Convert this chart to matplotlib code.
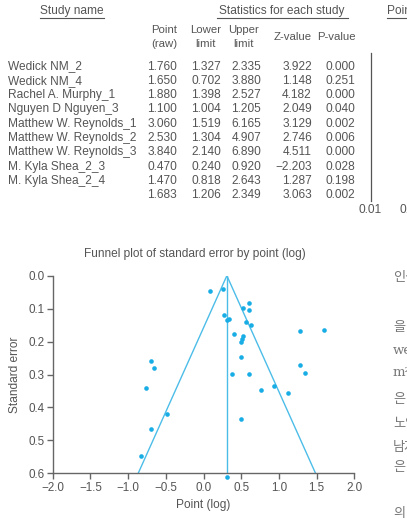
import numpy as np
import matplotlib
matplotlib.use('Agg')
import matplotlib.pyplot as plt
from matplotlib.lines import Line2D

matplotlib.rcParams['font.family'] = ['Liberation Sans', 'Noto Sans CJK KR', 'DejaVu Sans']
matplotlib.rcParams['axes.unicode_minus'] = True

W, H = 407, 523
GRAY = '#555555'
BLUE = '#19ade5'
LINE_BLUE = '#4cbde8'

# table data
study_names = ['Wedick NM_2', 'Wedick NM_4', 'Rachel A. Murphy_1', 'Nguyen D Nguyen_3',
               'Matthew W. Reynolds_1', 'Matthew W. Reynolds_2', 'Matthew W. Reynolds_3',
               'M. Kyla Shea_2_3', 'M. Kyla Shea_2_4', '']
point_raw = [1.760, 1.650, 1.880, 1.100, 3.060, 2.530, 3.840, 0.470, 1.470, 1.683]
lower_limit = [1.327, 0.702, 1.398, 1.004, 1.519, 1.304, 2.140, 0.240, 0.818, 1.206]
upper_limit = [2.335, 3.880, 2.527, 1.205, 6.165, 4.907, 6.890, 0.920, 2.643, 2.349]
z_value = [3.922, 1.148, 4.182, 2.049, 3.129, 2.746, 4.511, -2.203, 1.287, 3.063]
p_value = [0.000, 0.251, 0.000, 0.040, 0.002, 0.006, 0.000, 0.028, 0.198, 0.002]

# funnel plot data (log point, standard error)
funnel_x = [0.09, 0.255, 0.60, 0.524, 0.608, 0.276, 0.318, 0.34, 0.564, 0.63,
            0.40, 0.528, 0.515, 0.502, 0.502, 1.28, 1.594, 1.28, 1.35,
            -0.70, -0.66, -0.76, -0.488, -0.70, -0.83,
            0.382, 0.60, 0.76, 0.93, 1.12, 0.502, 0.31]
funnel_se = [0.046, 0.039, 0.084, 0.098, 0.103, 0.119, 0.134, 0.132, 0.142, 0.150,
             0.177, 0.183, 0.191, 0.200, 0.246, 0.167, 0.166, 0.270, 0.296,
             0.258, 0.281, 0.341, 0.421, 0.466, 0.547,
             0.298, 0.298, 0.347, 0.335, 0.355, 0.435, 0.612]
combined_log = 0.31
x_ticks = [-2.0, -1.5, -1.0, -0.5, 0.0, 0.5, 1.0, 1.5, 2.0]
y_ticks = [0.0, 0.1, 0.2, 0.3, 0.4, 0.5, 0.6]

# cut-off body text on the right edge
side_text = ['인식', '을', 'were', 'm²', '은', '노인', '남자', '은', '의']
side_y = [277, 327, 350, 373, 400, 423, 447, 468, 513]

fig = plt.figure(figsize=(W / 100, H / 100), dpi=100)


def fx(x):
    return x / W


def fy(y):
    return 1 - y / H


def txt(x, y, s, ha='left', size=8.6, **kw):
    fig.text(fx(x), fy(y), s, ha=ha, va='center', fontsize=size, color=GRAY, **kw)


def hline(x0, x1, y, lw=0.8):
    fig.add_artist(Line2D([fx(x0), fx(x1)], [fy(y), fy(y)], color=GRAY, lw=lw))


# ---- table ----
txt(72, 11, 'Study name', ha='center')
hline(40, 104, 18)
txt(282, 11, 'Statistics for each study', ha='center')
hline(217, 348, 18)
txt(387, 11, 'Point (raw) and 95% CI')
hline(387, 410, 18)

hs = 8.2
txt(164, 30, 'Point', ha='center', size=hs)
txt(164, 44, '(raw)', ha='center', size=hs)
txt(206, 30, 'Lower', ha='center', size=hs)
txt(206, 44, 'limit', ha='center', size=hs)
txt(244, 30, 'Upper', ha='center', size=hs)
txt(244, 44, 'limit', ha='center', size=hs)
txt(293, 37, 'Z-value', ha='center', size=hs)
txt(336, 37, 'P-value', ha='center', size=hs)

for i in range(len(study_names)):
    y = 66.5 + 14.3 * i
    txt(8, y, study_names[i])
    txt(177, y, '%.3f' % point_raw[i], ha='right')
    txt(221, y, '%.3f' % lower_limit[i], ha='right')
    txt(261, y, '%.3f' % upper_limit[i], ha='right')
    txt(312, y, ('%.3f' % z_value[i]).replace('-', '\u2212'), ha='right')
    txt(355, y, '%.3f' % p_value[i], ha='right')

fig.add_artist(Line2D([fx(371), fx(371)], [fy(53), fy(201)], color=GRAY, lw=0.9))
txt(370, 210, '0.01', ha='center')
txt(400, 210, '0.1')

# ---- funnel plot ----
ax = fig.add_axes([fx(52.7), fy(473.3), fx(354.3) - fx(52.7), fy(275.7) - fy(473.3)])
se_line = np.array([0.0, 0.6])
ax.plot(combined_log - 1.96 * se_line, se_line, color=LINE_BLUE, lw=1.0)
ax.plot(combined_log + 1.96 * se_line, se_line, color=LINE_BLUE, lw=1.0)
ax.plot([combined_log, combined_log], [0, 0.6], color=LINE_BLUE, lw=1.0)
ax.scatter(funnel_x, funnel_se, s=11, color=BLUE, zorder=3, clip_on=False, linewidths=0)

ax.set_xlim(-2, 2)
ax.set_ylim(0.6, 0)
ax.set_xticks(x_ticks)
ax.set_xticklabels([('%.1f' % t).replace('-', '\u2212') for t in x_ticks])
ax.set_yticks(y_ticks)
ax.set_yticklabels(['%.1f' % t for t in y_ticks])
for s in ['top', 'right']:
    ax.spines[s].set_visible(False)
for s in ['left', 'bottom']:
    ax.spines[s].set_color('#666666')
    ax.spines[s].set_linewidth(1.0)
ax.tick_params(colors='#666666', labelcolor=GRAY, labelsize=8.4, length=4, width=1.0, pad=2)
ax.set_xlabel('Point (log)', fontsize=8.6, color=GRAY, labelpad=4)
ax.set_ylabel('Standard error', fontsize=8.6, color=GRAY, labelpad=5)

txt(194.5, 254, 'Funnel plot of standard error by point (log)', ha='center')

for s, y in zip(side_text, side_y):
    fig.text(fx(393), fy(y), s, ha='left', va='center', fontsize=9.5, color='#777777',
             family=['DejaVu Serif', 'Noto Sans CJK KR'])

fig.savefig('out.png', dpi=100)
